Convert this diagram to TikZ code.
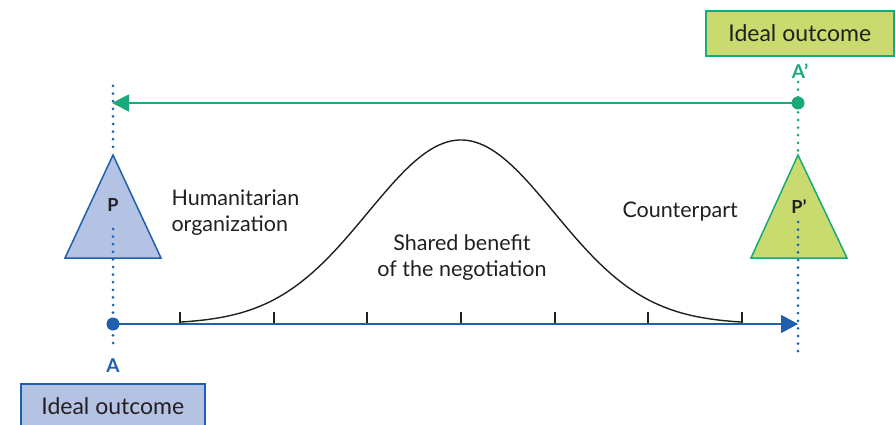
\documentclass[tikz,border=0pt]{standalone}
\usepackage{fontspec}
\setmainfont{Lato}
\usetikzlibrary{arrows.meta}
\definecolor{orgblue}{HTML}{1E5FAE}\definecolor{orgfill}{HTML}{B4C3E4}
\definecolor{cpgreen}{HTML}{1AA97A}\definecolor{cpfill}{HTML}{C9DB6E}
\definecolor{ink}{HTML}{231F20}
\tikzset{>=Triangle,every node/.style={font=\fontsize{21.5}{26}\selectfont,text=ink},
dotline/.style={line width=3pt,line cap=round,dash pattern=on 0pt off 7.6pt},
outcome/.style={draw,line width=1.6pt,minimum width=184pt,minimum height=45pt,inner sep=0pt,font=\fontsize{23}{26}\selectfont},
tick/.style={line width=1.2pt,ink}}
\begin{document}
\begin{tikzpicture}[x=1pt,y=-1pt]
\useasboundingbox (0,0) rectangle (895,425);
% dotted guides
\draw[dotline,orgblue] (113,86)--(113,147) (113,229)--(113,350);
\draw[dotline,cpgreen] (798,82)--(798,152);\draw[dotline,orgblue] (798,222)--(798,357);
% triangles
\draw[orgblue,fill=orgfill,line width=1.5pt] (113,155)--(161,258)--(65,258)--cycle;
\draw[cpgreen,fill=cpfill,line width=1.5pt] (798,155)--(847,258)--(751,258)--cycle;
\draw[dotline,orgblue] (113,229)--(113,258) (798,222)--(798,258);
\node[font=\bfseries\fontsize{18}{20}\selectfont] (p) at (113,205) {P};
\node[font=\bfseries\fontsize{18}{20}\selectfont] (pp) at (799,207) {P\textquoteright};
% axis
\foreach \x in {180,274,367,461,555,648,742}{\draw[tick] (\x,312)--(\x,324);}
\draw[line width=1.4pt,ink] plot[domain=180:742,samples=140,smooth] (\x,{324-184*exp(-((\x-461)/93)^2/2)});
\fill[orgblue] (113,324) circle (6.5) coordinate (a);\coordinate (aend) at (798,324);
\draw[orgblue,line width=1.8pt,-{Triangle[length=17pt,width=18pt]}] (a)--(aend);
\fill[cpgreen] (798,103) circle (6.5) coordinate (b);\coordinate (bend) at (112,103);
\draw[cpgreen,line width=1.8pt,-{Triangle[length=17pt,width=17pt]}] (b)--(bend);
% labels
\node[font=\bfseries\fontsize{19}{20}\selectfont,text=orgblue] (la) at (113,366) {A};
\node[font=\bfseries\fontsize{19}{20}\selectfont,text=cpgreen] (lb) at (800,71) {A\textquoteright};
\node[outcome,orgblue,fill=orgfill,anchor=north west] (ideal1) at (20,383) {\textcolor{ink}{Ideal outcome}};
\node[outcome,cpgreen,fill=cpfill,minimum width=188pt,anchor=north west] (ideal2) at (705,10) {\textcolor{ink}{Ideal outcome}};
\node[align=left,anchor=west] (hum) at (168,213) {Humanitarian\\organization};
\node[anchor=west] (cp) at (619,212) {Counterpart};
\node[align=center] (shared) at (462,258) {Shared benefit\\of the negotiation};
\end{tikzpicture}
\end{document}
